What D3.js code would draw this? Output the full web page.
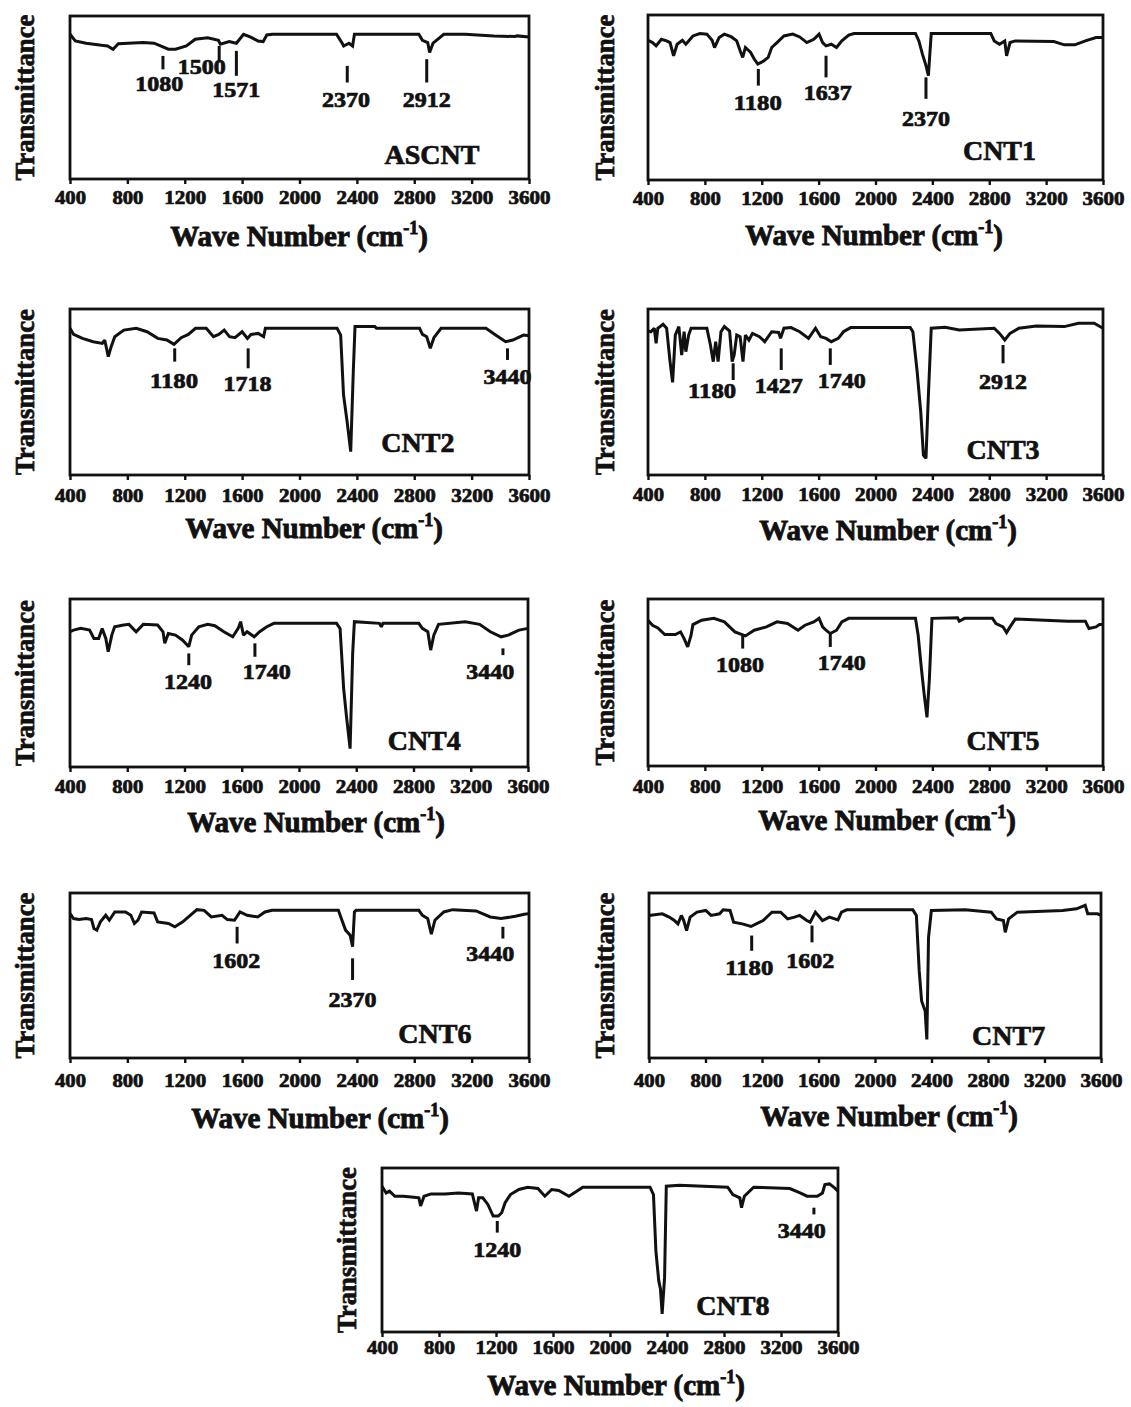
<!DOCTYPE html>
<html><head><meta charset="utf-8">
<script src="https://cdn.jsdelivr.net/npm/d3@7"></script>
<style>
body{margin:0;background:#fff;}
svg text{font-family:"Liberation Serif","Times New Roman",serif;font-weight:bold;fill:#111;stroke:#111;stroke-width:0.7px;paint-order:stroke;}
</style></head><body>
<svg id="chart" width="1131" height="1407"></svg>
<script>
// ---------------- DATA ----------------
const xTicks = [400, 800, 1200, 1600, 2000, 2400, 2800, 3200, 3600];
const sampleNames = ["ASCNT", "CNT1", "CNT2", "CNT3", "CNT4", "CNT5", "CNT6", "CNT7", "CNT8"];
const yTitle = "Transmittance";
const xTitle = "Wave Number (cm";

// spectra: [wave number (cm-1), transmittance (% of panel height)]
const ASCNT = [[400,88.8],[437,84.7],[512,83.3],[620,82],[662,81.6],[700,79.6],[737,83],[911,83.7],[986,83.3],[1086,79.6],[1136,79.6],[1211,81.6],[1273,85.7],[1360,86.7],[1435,85.1],[1448,82.7],[1510,84.3],[1560,83.3],[1610,88.8],[1660,87],[1710,84.7],[1747,84.3],[1772,88.4],[1809,88.8],[2258,88.8],[2295,83.7],[2308,81.6],[2345,83.3],[2370,81.6],[2383,88.8],[2832,88.8],[2857,85.1],[2894,83.7],[2907,77.6],[2931,83.3],[3006,88.8],[3155,88.8],[3355,87.8],[3504,87.4],[3517,87.8],[3600,87.1]];
const CNT1 = [[400,84.7],[432,83.3],[457,81.3],[494,85.3],[531,84.3],[555,83.3],[580,75.3],[605,82.3],[642,84.7],[666,82.3],[716,87.3],[765,88.8],[814,88.4],[851,84.7],[868,80.3],[900,86.3],[937,88.4],[987,86.7],[1024,84.3],[1048,78.3],[1066,74.3],[1085,80.3],[1122,77.3],[1147,73.3],[1172,70.3],[1209,71.9],[1245,74.3],[1270,80.3],[1307,83.3],[1356,87.3],[1418,88.4],[1467,86.7],[1517,83.3],[1566,85.3],[1603,88.4],[1628,83.3],[1652,81.3],[1689,82.3],[1726,80.3],[1763,84.3],[1812,87.8],[1849,88.8],[2281,88.8],[2305,84.3],[2330,76.3],[2355,69.3],[2372,63.3],[2392,88.8],[2811,88.8],[2835,84.3],[2872,82.3],[2909,84.3],[2922,75.3],[2946,83.3],[2983,84.3],[3254,83.9],[3328,81.9],[3402,81.9],[3476,84.3],[3551,86.3],[3600,86.3]];
const CNT2 = [[400,88.4],[425,84.7],[487,82.3],[562,80.3],[625,79.3],[642,81.3],[667,71.3],[687,77.3],[712,83.3],[775,87.3],[862,88.4],[937,86.3],[1012,82.3],[1075,81.3],[1125,78.7],[1175,82.7],[1225,84.7],[1275,88.4],[1350,88.4],[1400,83.3],[1437,84.7],[1475,87.3],[1512,83.3],[1550,82.7],[1600,86.3],[1637,82.3],[1662,84.7],[1712,85.3],[1750,83.3],[1762,88.4],[2262,88.4],[2287,84.3],[2307,48.2],[2332,32.1],[2357,14.1],[2375,62.2],[2387,89.4],[2525,89.4],[2537,88.4],[2837,88.4],[2857,84.7],[2887,83.3],[2912,76.3],[2937,82.7],[2987,88.4],[3300,88.4],[3362,84.7],[3437,80.3],[3487,81.3],[3562,84.3],[3600,83.9]];
const CNT3 = [[400,86.7],[420,86.3],[444,88.4],[457,79.3],[469,88.4],[506,90.8],[531,88.4],[555,68.3],[573,55.8],[592,84.3],[617,89.4],[637,72.3],[654,86.3],[666,74.3],[686,84.3],[703,88.4],[814,88.4],[839,78.3],[859,68.3],[876,80.3],[893,68.3],[913,86.3],[937,89.4],[974,86.7],[992,68.3],[1006,72.3],[1024,84.3],[1048,83.3],[1068,68.3],[1085,84.3],[1110,81.3],[1135,85.3],[1184,83.3],[1221,80.3],[1270,86.3],[1319,85.9],[1332,82.3],[1356,88.4],[1406,88.8],[1467,86.3],[1529,82.3],[1578,88.4],[1615,83.3],[1652,82.3],[1689,80.3],[1738,82.3],[1775,86.3],[1825,88.8],[2244,88.8],[2263,86.3],[2293,62.2],[2318,38.2],[2337,12],[2355,10],[2372,48.2],[2392,88.4],[2490,89],[2589,87.3],[2835,88.4],[2872,85.3],[2909,81.3],[2946,85.3],[3008,88.4],[3131,89.8],[3328,89.4],[3427,91.4],[3538,91.4],[3600,88.4]];
const CNT4 = [[400,80.5],[425,81.5],[475,82.5],[537,81.5],[567,76.5],[600,76.5],[625,82.5],[650,76.5],[667,68.6],[692,78.5],[712,83.5],[775,84.5],[812,84.9],[862,80.5],[912,84.9],[1012,84.5],[1050,80.5],[1062,73.6],[1087,79.5],[1137,78.5],[1187,75.5],[1230,71.6],[1250,78.5],[1300,83.5],[1362,84.9],[1412,84.1],[1475,80.5],[1537,77.5],[1575,82.5],[1592,86.5],[1612,78.5],[1637,80.5],[1687,77.5],[1725,80.5],[1775,83.5],[1825,85.5],[2262,85.5],[2287,82.5],[2312,46.7],[2332,29.8],[2357,10.9],[2375,67.6],[2387,86.5],[2562,85.5],[2575,83.5],[2587,85.5],[2837,85.5],[2862,82.5],[2900,80.5],[2920,69.6],[2942,78.5],[2975,84.9],[3162,86.5],[3262,84.9],[3337,80.5],[3412,77.5],[3462,78.5],[3537,81.5],[3600,82.5]];
const CNT5 = [[400,87.3],[432,84.3],[469,82.7],[518,78.7],[592,78.7],[629,80.3],[654,76.3],[679,71.3],[703,78.3],[716,84.7],[777,87.3],[863,88.4],[937,86.3],[1011,80.3],[1085,77.9],[1147,81.3],[1233,83.3],[1307,86.3],[1381,85.3],[1455,81.3],[1504,84.3],[1566,86.3],[1603,88.4],[1628,83.3],[1652,81.3],[1682,79.3],[1726,81.3],[1763,86.3],[1812,88.4],[2281,88.4],[2300,78.3],[2323,58.2],[2342,43.2],[2362,29.1],[2379,52.2],[2397,88.4],[2577,88.8],[2589,86.7],[2626,88.4],[2823,88.4],[2847,85.3],[2897,83.3],[2922,79.9],[2946,83.3],[2983,88],[3353,86.7],[3476,86.7],[3501,82.3],[3551,83.3],[3575,84.7],[3600,84.7]];
const CNT6 = [[400,87.5],[425,84.5],[462,83.9],[512,84.5],[550,83.9],[567,78.5],[587,77.5],[612,82.5],[649,86.5],[674,83.5],[712,88.5],[787,88.5],[824,86.5],[849,81.5],[874,83.5],[899,88.5],[986,87.9],[1011,82.5],[1086,81.5],[1131,79.5],[1186,82.5],[1285,89.9],[1335,89.5],[1385,85.5],[1460,86.5],[1497,83.9],[1547,83.5],[1585,88.5],[1635,86.5],[1709,85.5],[1759,88.5],[1809,89.5],[2271,89.5],[2296,83.5],[2321,77.5],[2353,74.4],[2370,67.4],[2383,88.5],[2395,89.5],[2832,89.5],[2857,86.5],[2894,84.5],[2919,75],[2944,83.5],[3006,88.5],[3068,89.9],[3231,89.1],[3330,85.5],[3405,84.5],[3505,85.9],[3567,87.1],[3600,87.5]];
const CNT7 = [[400,86.4],[494,87.4],[543,85.4],[580,83.3],[605,81.3],[629,86.4],[646,83.3],[666,77.2],[691,85.4],[740,88.4],[802,89.4],[839,86.4],[900,87.4],[925,89.8],[974,89.4],[999,82.3],[1061,81.3],[1122,79.7],[1159,81.3],[1208,83.3],[1270,88.4],[1332,88.4],[1381,84.3],[1430,85.4],[1467,86.4],[1517,83.3],[1541,82.3],[1578,88.4],[1628,83.3],[1677,85.4],[1738,83.7],[1763,88.4],[1800,89.8],[2268,89.8],[2293,86.4],[2313,52.8],[2330,34.6],[2355,28.5],[2367,11.2],[2379,73.2],[2399,89.4],[2638,89.8],[2823,88.4],[2860,84.3],[2909,83.3],[2922,76.2],[2946,84.3],[3008,88.4],[3328,89.4],[3427,90.4],[3488,92.5],[3506,87.4],[3575,87.4],[3600,86.4]];
const CNT8 = [[400,88.9],[429,84.8],[453,85.9],[490,82.8],[550,82.8],[623,82.2],[659,81.8],[671,76.8],[695,82.8],[744,84.2],[841,84.2],[937,84.8],[1034,84.2],[1046,79.8],[1063,73.7],[1078,81.8],[1107,81.8],[1143,77.8],[1180,70.7],[1216,70.7],[1240,72.7],[1264,78.8],[1301,83.8],[1361,86.9],[1422,88.3],[1494,87.5],[1543,82.8],[1591,86.9],[1640,86.3],[1712,82.8],[1761,85.5],[1809,88.3],[2281,88.3],[2305,83.8],[2322,49.5],[2342,31.3],[2354,26.3],[2366,11.1],[2383,33.3],[2395,88.9],[2487,89.5],[2826,88.3],[2862,83.8],[2911,81.8],[2923,75.8],[2943,82.8],[3008,88.3],[3262,87.5],[3334,84.8],[3383,82.8],[3455,82.8],[3491,84.8],[3508,89.9],[3540,90.3],[3576,87.9],[3600,85.9]];

// assigned bands: [label, wave number of marker]
const ASCNT_bands = [["1080",1048],["1500",1440],["1571",1560],["2370",2333],["2912",2887]];
const CNT1_bands = [["1180",1176],["1637",1652],["2370",2355]];
const CNT2_bands = [["1180",1130],["1718",1642],["3440",3450]];
const CNT3_bands = [["1180",999],["1427",1337],["1740",1682],["2912",2897]];
const CNT4_bands = [["1240",1230],["1740",1692],["3440",3425]];
const CNT5_bands = [["1080",1066],["1740",1682]];
const CNT6_bands = [["1602",1565],["2370",2370],["3440",3418]];
const CNT7_bands = [["1180",1127],["1602",1554]];
const CNT8_bands = [["1240",1209],["3440",3431]];

const spectra = [ASCNT, CNT1, CNT2, CNT3, CNT4, CNT5, CNT6, CNT7, CNT8];
const bands = [ASCNT_bands, CNT1_bands, CNT2_bands, CNT3_bands, CNT4_bands, CNT5_bands, CNT6_bands, CNT7_bands, CNT8_bands];

// ---------------- LAYOUT (pixels / data-unit placements) ----------------
const panelBoxes = [
  {x0:70, x1:529, y0:16, y1:179, tickBase:204, titleX:299, titleBase:246, yLabX:34},
  {x0:648, x1:1103, y0:15, y1:180, tickBase:205, titleX:874, titleBase:245, yLabX:614},
  {x0:70, x1:529, y0:309, y1:475, tickBase:502, titleX:314, titleBase:538, yLabX:34},
  {x0:648, x1:1103, y0:309, y1:475, tickBase:501, titleX:888, titleBase:540, yLabX:614},
  {x0:70, x1:528, y0:599, y1:767, tickBase:793, titleX:316, titleBase:832, yLabX:34},
  {x0:648, x1:1103, y0:599, y1:766, tickBase:793, titleX:887, titleBase:830, yLabX:614},
  {x0:70, x1:529, y0:893, y1:1058, tickBase:1087, titleX:320, titleBase:1128, yLabX:34},
  {x0:649, x1:1101, y0:893, y1:1058, tickBase:1087, titleX:889, titleBase:1126, yLabX:614},
  {x0:382, x1:838, y0:1168, y1:1332, tickBase:1354, titleX:616, titleBase:1395, yLabX:356}
];
// marker placement per band: [tick top, tick bottom, label x (cm-1), label centre (%)]
const bandMarks = [
  [[75.5,67.3,1023,58.6],[81.6,71.4,1318,69],[78.6,63.3,1560,54.7],[69.4,59.2,2325,49],[73.5,59.2,2887,49]],
  [[67.3,57.2,1172,46.8],[75.3,62.2,1664,53.2],[62.2,49.2,2355,37.1]],
  [[76.3,68.3,1125,57.2],[76.3,64.3,1637,55.2],[76.3,69.3,3450,59.2]],
  [[67.3,57.2,851,51.2],[76.3,63.3,1319,54.2],[76.3,66.3,1763,57.2],[78.3,67.3,2897,56.2]],
  [[67.6,60.6,1225,50.7],[73.6,65.6,1775,56.7],[70.6,66.6,3337,57.1]],
  [[78.3,70.3,1048,60.6],[79.3,71.3,1763,62.2]],
  [[79.5,69.4,1560,59],[60.4,47.3,2370,35.6],[79.5,72.4,3330,63.2]],
  [[74.2,65,1110,54.9],[80.3,70.1,1541,58.9]],
  [[67.7,60.6,1209,50.5],[75.8,71.7,3346,61.6]]
];
const namePos = [[2924,15.3],[2872,18.1],[2825,20.1],[2897,15.7],[2875,15.9],[2897,15.7],[2944,15.1],[2946,14.2],[2862,16.2]];

// ---------------- DRAW ----------------
const svg = d3.select("#chart");
const ink = "#111";

panelBoxes.forEach((b, i) => {
  const x = d3.scaleLinear().domain([400, 3600]).range([b.x0, b.x1]);
  const y = d3.scaleLinear().domain([0, 100]).range([b.y1, b.y0]);
  const g = svg.append("g");

  // x axis ticks (outward) + labels
  const ax = g.append("g").attr("transform", `translate(0,${b.y1})`)
    .call(d3.axisBottom(x).tickValues(xTicks).tickSize(5).tickSizeOuter(0).tickFormat(d3.format("d")));
  ax.select(".domain").remove();
  ax.attr("font-family", null).attr("font-size", null);
  ax.selectAll(".tick line").attr("stroke", ink).attr("stroke-width", 2.4);
  ax.selectAll(".tick text")
    .attr("y", b.tickBase - b.y1).attr("dy", 0)
    .attr("fill", ink)
    .style("font-size", "18px")
    .attr("textLength", d => String(d).length === 3 ? 31 : 42)
    .attr("lengthAdjust", "spacingAndGlyphs");

  // spectrum
  g.append("path").datum(spectra[i])
    .attr("fill", "none").attr("stroke", ink).attr("stroke-width", 3)
    .attr("stroke-linejoin", "miter").attr("stroke-miterlimit", 2)
    .attr("d", d3.line().x(d => x(d[0])).y(d => y(d[1])));

  // frame
  g.append("rect").attr("x", b.x0).attr("y", b.y0)
    .attr("width", b.x1 - b.x0).attr("height", b.y1 - b.y0)
    .attr("fill", "none").attr("stroke", ink).attr("stroke-width", 2.8);

  // band markers
  bands[i].forEach((bd, j) => {
    const m = bandMarks[i][j];
    g.append("line").attr("x1", x(bd[1])).attr("x2", x(bd[1]))
      .attr("y1", y(m[0])).attr("y2", y(m[1]))
      .attr("stroke", ink).attr("stroke-width", 3);
    g.append("text").attr("x", x(m[2])).attr("y", y(m[3]) + 7.5)
      .attr("text-anchor", "middle").style("font-size", "21px")
      .attr("textLength", 48).attr("lengthAdjust", "spacingAndGlyphs")
      .text(bd[0]);
  });

  // sample name
  g.append("text").attr("x", x(namePos[i][0])).attr("y", y(namePos[i][1]) + 10)
    .attr("text-anchor", "middle").style("font-size", "28px").text(sampleNames[i]);

  // y title
  const cy = (b.y0 + b.y1) / 2;
  g.append("text").attr("transform", `translate(${b.yLabX},${cy}) rotate(-90)`)
    .attr("text-anchor", "middle").style("font-size", "27px")
    .attr("textLength", 166).attr("lengthAdjust", "spacingAndGlyphs")
    .text(yTitle);

  // x title
  const t = g.append("text").attr("x", b.titleX).attr("y", b.titleBase)
    .attr("text-anchor", "middle").style("font-size", "29px").style("stroke-width", "0.9px");
  t.append("tspan").text(xTitle);
  t.append("tspan").attr("dy", -12).style("font-size", "18px").text("-1");
  t.append("tspan").attr("dy", 12).text(")");
});
</script>
</body></html>
